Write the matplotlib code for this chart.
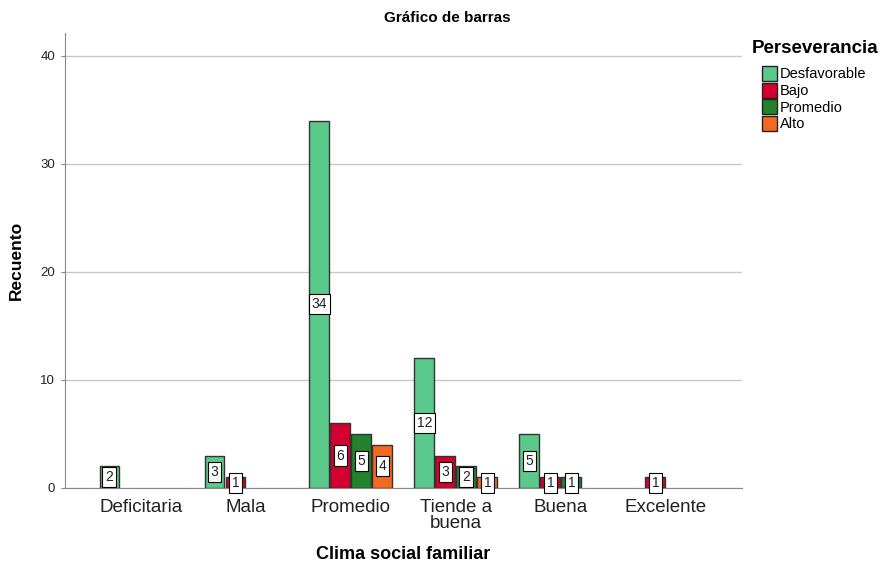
import numpy as np
import matplotlib.pyplot as plt
from matplotlib.patches import Patch

plt.rcParams['font.family'] = ['Liberation Sans', 'DejaVu Sans']

categorias = ['Deficitaria', 'Mala', 'Promedio', 'Tiende a\nbuena', 'Buena', 'Excelente']
series = ['Desfavorable', 'Bajo', 'Promedio', 'Alto']
valores = {
    'Desfavorable': [2, 3, 34, 12, 5, 0],
    'Bajo':         [0, 1, 6, 3, 1, 1],
    'Promedio':     [0, 0, 5, 2, 1, 0],
    'Alto':         [0, 0, 4, 1, 0, 0],
}
colores = ['#5cc98c', '#d4002e', '#23822c', '#f26a21']

fig = plt.figure(figsize=(8.85, 5.69), dpi=100)
ax = fig.add_axes([0.0734, 0.1424, 0.7650, 0.7996])

x = np.arange(len(categorias))
ancho = 0.2
offsets = [-0.3, -0.1, 0.1, 0.3]

for s, col, off in zip(series, colores, offsets):
    vals = valores[s]
    for xi, v in zip(x, vals):
        if v == 0:
            continue
        ax.bar(xi + off, v, width=ancho - 0.01, color=col, edgecolor='#333333',
               linewidth=1.0, zorder=3)
        ax.text(xi + off, v / 2, str(v), ha='center', va='center', fontsize=10,
                color='#222222', zorder=4,
                bbox=dict(boxstyle='square,pad=0.22', facecolor='white',
                          edgecolor='black', linewidth=0.8))

ax.set_xlim(-0.724, 5.724)
ax.set_ylim(0, 42.1)
ax.set_yticks([0, 10, 20, 30, 40])
ax.set_xticks(x)
ax.set_xticklabels(categorias, fontsize=13.5, color='#222222', linespacing=0.95)
ax.tick_params(axis='y', labelsize=9.5, length=3, color='#888888', pad=4,
               labelcolor='#222222')
ax.tick_params(axis='x', length=0, pad=8)
ax.yaxis.grid(True, color='#c8c8c8', linewidth=1.0, zorder=0)
ax.set_axisbelow(True)
for sp in ['top', 'right']:
    ax.spines[sp].set_visible(False)
ax.spines['left'].set_color('#888888')
ax.spines['bottom'].set_color('#888888')

ax.set_ylabel('Recuento', fontsize=12.5, fontweight='bold', labelpad=12)
ax.set_xlabel('Clima social familiar', fontsize=13, fontweight='bold', labelpad=10)
fig.text(0.505, 0.968, 'Gráfico de barras', ha='center', va='center',
         fontsize=11, fontweight='bold')

fig.text(0.849, 0.9156, 'Perseverancia', ha='left', va='center',
         fontsize=13.5, fontweight='bold')
handles = [Patch(facecolor=c, edgecolor='#222222', label=s) for s, c in zip(series, colores)]
leg = fig.legend(handles=handles, loc='upper left',
                 bbox_to_anchor=(0.861, 0.884), frameon=False, fontsize=10.5,
                 handlelength=1.05, handleheight=1.2, handletextpad=0.15,
                 labelspacing=0.08, borderaxespad=0, borderpad=0)

fig.savefig('out.png', dpi=100)
